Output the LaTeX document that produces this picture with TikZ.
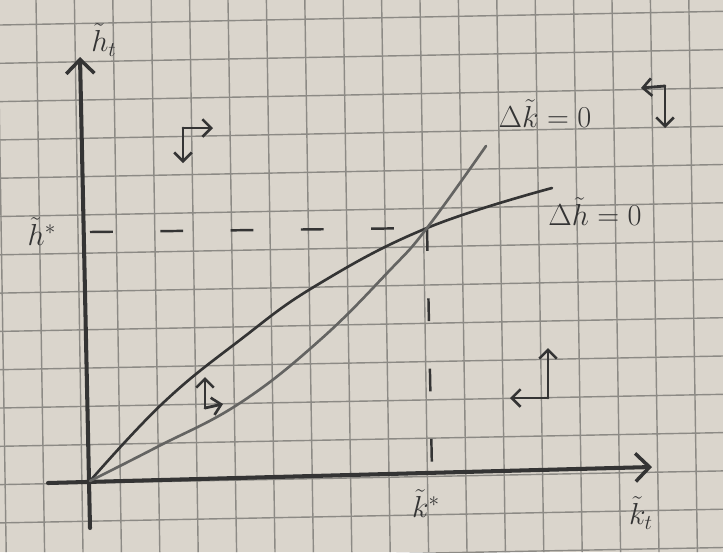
\documentclass[tikz,border=0pt]{standalone}
\usetikzlibrary{arrows.meta}
\definecolor{paper}{RGB}{218,213,204}
\definecolor{gridgray}{RGB}{140,138,133}
\definecolor{pencil}{RGB}{52,52,52}
\definecolor{pencillight}{RGB}{100,100,98}
\tikzset{
  axisline/.style={pencil, line width=2.3pt, line cap=round, -{Straight Barb[length=8pt, width=16pt, line width=2pt]}},
  curveline/.style={line width=1.5pt, line cap=round},
  guideline/.style={pencil, line width=1.4pt, dash pattern=on 13pt off 27pt},
  phasearrow/.style={pencil, line width=1.6pt, line cap=round, -{Straight Barb[length=5pt, width=10pt, line width=1.5pt]}},
  lab/.style={text=pencil, font=\LARGE, inner sep=1pt}
}
\begin{document}
\begin{tikzpicture}[x=0.02cm, y=-0.02cm]
    % paper and the slightly turned grid
    \useasboundingbox (0,0) rectangle (723,552);
    \fill[paper] (0,0) rectangle (723,552);
    \foreach \n in {-1,...,18} {
        \draw[gridgray, line width=0.8pt] (36+38.4*\n, 0) -- (44.6+38.4*\n, 552);
    }
    \foreach \m in {0,...,14} {
        \draw[gridgray, line width=0.8pt] (0, 25+38.3*\m) -- (723, 11.3+38.3*\m);
    }

    % axes
    \coordinate (yb) at (90,528);
    \coordinate (yt) at (80,57);
    \coordinate (xl) at (48,483);
    \coordinate (xr) at (652,467);
    \draw[axisline] (yb) -- (yt);
    \draw[axisline] (xl) -- (xr);

    % steady state and its guide lines
    \coordinate (ss) at (427,228);
    \coordinate (hs) at (90,232);
    \coordinate (ks) at (432,471);
    \draw[guideline] (hs) -- (ss);
    \draw[guideline] (ss) -- (ks);

    % Delta h = 0
    \draw[curveline, pencil] plot[smooth, tension=0.7] coordinates {
        (90,481) (163,403) (240,340) (317,285) (ss) (552,188)};
    % Delta k = 0
    \draw[curveline, pencillight] plot[smooth, tension=0.7] coordinates {
        (90,481) (157,447) (240,403) (320,340) (390,270) (ss) (486,146)};

    % labels
    \node[lab] (hlab) at (104,40) {$\tilde{h}_t$};
    \node[lab] (klab) at (641,513) {$\tilde{k}_t$};
    \node[lab] (hstar) at (42,232) {$\tilde{h}^*$};
    \node[lab] (kstar) at (426,504) {$\tilde{k}^*$};
    \node[lab] (dk) at (545,114) {$\Delta\tilde{k}=0$};
    \node[lab] (dh) at (595,212) {$\Delta\tilde{h}=0$};

    % phase arrows
    \coordinate (pa) at (183,128);
    \coordinate (pb) at (665,86);
    \coordinate (pc) at (548,398);
    \coordinate (pd) at (205,408);
    \draw[phasearrow] (pa) -- ++(30,0);
    \draw[phasearrow] (pa) -- ++(0,35);
    \draw[phasearrow] (pb) -- ++(-24,2);
    \draw[phasearrow] (pb) -- ++(0,42);
    \draw[phasearrow] (pc) -- ++(-38,0);
    \draw[phasearrow] (pc) -- ++(0,-50);
    \draw[phasearrow] (pd) -- ++(0,-31);
    \draw[phasearrow] (pd) -- ++(18,-4);
\end{tikzpicture}
\end{document}
